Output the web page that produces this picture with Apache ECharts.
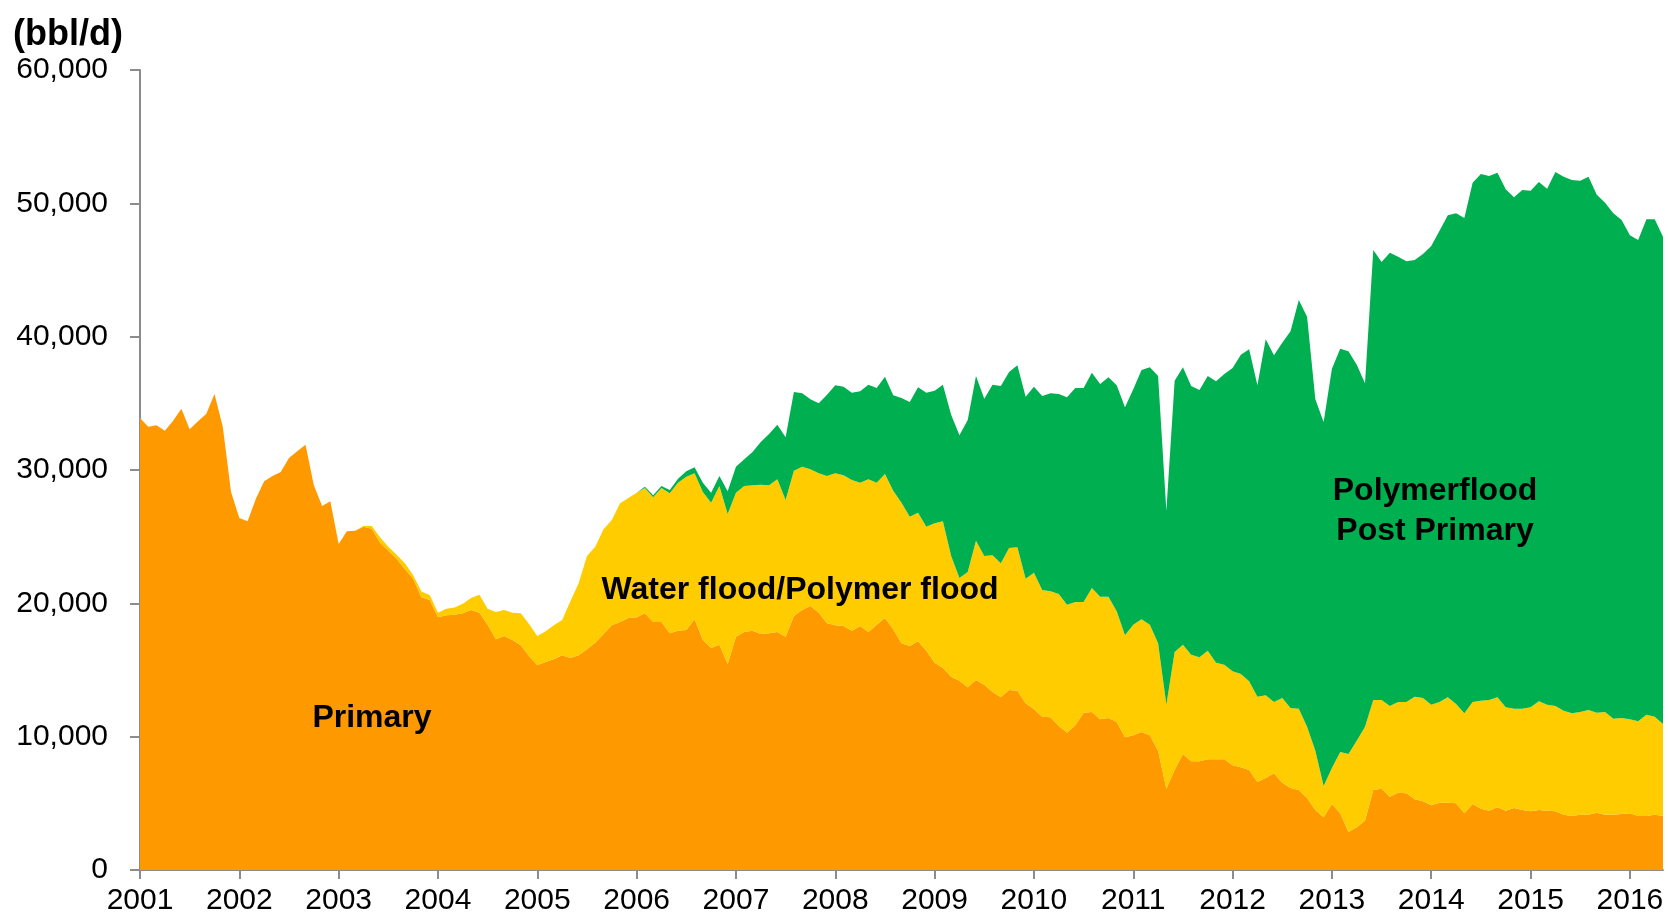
<!DOCTYPE html>
<html>
<head>
<meta charset="utf-8">
<script src="https://cdn.jsdelivr.net/npm/echarts@6/dist/echarts.min.js"></script>
<style>
  html, body { margin: 0; padding: 0; background: #fff; }
  #main { width: 1668px; height: 913px; }
</style>
</head>
<body>
<div id="main"></div>
<script>
// monthly, Jan 2001 .. May 2016
var firstYear = 2001;
var lastYear = 2016;
var lastMonth = 5;
var months = [];
for (var y = firstYear; y <= lastYear; y++) {
  for (var m = 1; m <= 12; m++) {
    if (y === lastYear && m > lastMonth) break;
    months.push(y + '-' + (m < 10 ? '0' + m : m));
  }
}

var primary = [
  33900, 33250, 33350, 32950, 33700, 34600, 33050, 33650, 34200, 35700,
  33250, 28350, 26400, 26150, 27850, 29150, 29550, 29850, 30900, 31400,
  31900, 28850, 27300, 27650, 24450, 25400, 25450, 25750, 25600, 24550,
  23950, 23350, 22550, 21850, 20450, 20250, 18950, 19100, 19150, 19250,
  19500, 19300, 18400, 17300, 17550, 17250, 16850, 16050, 15350, 15600,
  15800, 16100, 15900, 16100, 16550, 17050, 17700, 18350, 18600, 18900,
  18950, 19250, 18600, 18600, 17750, 17950, 18000, 18800, 17250, 16650,
  16900, 15450, 17500, 17850, 17950, 17700, 17750, 17850, 17500, 19050,
  19500, 19800, 19300, 18500, 18350, 18300, 17950, 18300, 17850, 18400,
  18900, 18050, 17000, 16800, 17150, 16450, 15550, 15150, 14500, 14200,
  13700, 14250, 13900, 13350, 12950, 13500, 13450, 12500, 12050, 11500,
  11450, 10800, 10300, 10850, 11800, 11850, 11300, 11400, 11100, 9950,
  10100, 10350, 10100, 8950, 6100, 7500, 8700, 8150, 8150, 8300,
  8300, 8300, 7850, 7700, 7500, 6600, 6900, 7250, 6550, 6150,
  6000, 5400, 4500, 3950, 4950, 4250, 2850, 3200, 3700, 6000,
  6100, 5500, 5800, 5750, 5300, 5150, 4850, 5050, 5050, 5000,
  4250, 4950, 4600, 4450, 4700, 4450, 4650, 4500, 4400, 4500,
  4450, 4400, 4150, 4050, 4150, 4150, 4300, 4150, 4150, 4200,
  4250, 4050, 4050, 4150, 4050
];

var waterflood = [
  0, 0, 0, 0, 0, 0, 0, 0, 0, 0,
  0, 0, 0, 0, 0, 0, 0, 0, 0, 0,
  0, 0, 0, 0, 0, 0, 0, 50, 200, 400,
  300, 300, 450, 250, 430, 370, 340, 490, 540, 720,
  900, 1350, 1200, 2050, 1950, 2050, 2400, 2400, 2200, 2300,
  2550, 2650, 4250, 5400, 7000, 7200, 7850, 7900, 8900, 9000,
  9350, 9400, 9350, 10050, 10500, 11100, 11500, 10950, 11100, 10900,
  11900, 11250, 10800, 10950, 10900, 11200, 11100, 11450, 10250, 10900,
  10750, 10250, 10450, 11050, 11400, 11300, 11300, 10750, 11450, 10650,
  10800, 10400, 10550, 9700, 9650, 9300, 10450, 11000, 9050, 7700,
  8650, 10450, 9650, 10250, 10050, 10650, 10750, 9350, 10250, 9500,
  9450, 9900, 9600, 9250, 8300, 9300, 9200, 9100, 8300, 7650,
  8300, 8450, 8300, 8050, 6300, 8850, 8200, 8000, 7800, 8150,
  7250, 7100, 7050, 7000, 6650, 6400, 6200, 5350, 6350, 6000,
  6100, 5350, 4450, 2350, 2700, 4600, 5850, 6500, 7050, 6750,
  6650, 6800, 6800, 6850, 7700, 7750, 7550, 7550, 7900, 7450,
  7500, 7650, 8100, 8300, 8250, 7750, 7450, 7600, 7800, 8150,
  7950, 7900, 7800, 7700, 7700, 7850, 7500, 7700, 7200, 7200,
  7050, 7100, 7600, 7350, 6900
];

var polymerPost = [
  0, 0, 0, 0, 0, 0, 0, 0, 0, 0,
  0, 0, 0, 0, 0, 0, 0, 0, 0, 0,
  0, 0, 0, 0, 0, 0, 0, 0, 0, 0,
  0, 0, 0, 0, 0, 0, 0, 0, 0, 0,
  0, 0, 0, 0, 0, 0, 0, 0, 0, 0,
  0, 0, 0, 0, 0, 0, 0, 0, 0, 0,
  0, 100, 150, 150, 250, 300, 400, 450, 700, 750,
  750, 1700, 1950, 2000, 2500, 3200, 3850, 4100, 4700, 5900,
  5500, 5250, 5250, 6100, 6600, 6650, 6550, 6850, 7100, 7100,
  7300, 7150, 7850, 8600, 9400, 10050, 9950, 10250, 10600, 10700,
  11400, 12350, 11800, 12800, 13300, 13200, 13650, 13650, 13950, 14550,
  14850, 15000, 15550, 16050, 16050, 16150, 15950, 16450, 16950, 17100,
  17650, 18700, 19300, 20050, 14550, 20350, 20800, 20150, 20050, 20600,
  21100, 21800, 22750, 23950, 24900, 23350, 26700, 26000, 26650, 28250,
  30650, 30750, 26350, 27300, 29950, 30250, 30200, 28200, 25750, 33750,
  32850, 34000, 33400, 33050, 32750, 33300, 34400, 35350, 36150, 36800,
  37150, 38950, 39500, 39300, 39350, 38850, 38350, 38900, 38750, 38950,
  38700, 40050, 40050, 40000, 39850, 40000, 38850, 38200, 37900, 37350,
  36300, 36100, 37150, 37300, 36550
];

var yTicks = { min: 0, max: 60000, step: 10000 };

var font = '"Liberation Sans", Arial, sans-serif';
var axisGray = '#8c8c8c';

function areaSeries(name, data, color) {
  return {
    name: name,
    type: 'line',
    stack: 'total',
    data: data,
    symbol: 'none',
    smooth: false,
    lineStyle: { width: 0 },
    areaStyle: { color: color, opacity: 1 },
    emphasis: { disabled: true },
    silent: true
  };
}

var chart = echarts.init(document.getElementById('main'), null, { renderer: 'canvas' });

var option = {
  animation: false,
  backgroundColor: '#ffffff',
  grid: {
    left: 140,
    right: 5,
    top: 70,
    bottom: 43,
    containLabel: false,
    outerBoundsMode: 'none'
  },
  xAxis: {
    type: 'category',
    data: months,
    boundaryGap: false,
    axisLine: { lineStyle: { color: axisGray, width: 2 } },
    axisTick: {
      length: 9,
      interval: function (idx) { return idx % 12 === 0; },
      lineStyle: { color: axisGray, width: 2 }
    },
    axisLabel: {
      interval: function (idx) { return idx % 12 === 0; },
      formatter: function (v) { return v.slice(0, 4); },
      color: '#000',
      fontSize: 30,
      fontFamily: font,
      margin: 16
    },
    splitLine: { show: false }
  },
  yAxis: {
    type: 'value',
    min: yTicks.min,
    max: yTicks.max,
    interval: yTicks.step,
    axisLine: { show: true, lineStyle: { color: axisGray, width: 2 } },
    axisTick: { show: true, length: 10, lineStyle: { color: axisGray, width: 2 } },
    axisLabel: {
      formatter: function (v) { return v.toLocaleString('en-US'); },
      color: '#000',
      fontSize: 30,
      fontFamily: font,
      margin: 32,
      padding: [4, 0, 0, 0]
    },
    splitLine: { show: false }
  },
  graphic: [
    {
      type: 'text', x: 13, y: 35,
      style: { text: '(bbl/d)', font: 'bold 36px ' + font, fill: '#000', verticalAlign: 'middle' }
    },
    {
      type: 'text', x: 372, y: 718, z: 100,
      style: { text: 'Primary', font: 'bold 32px ' + font, fill: '#000', align: 'center', verticalAlign: 'middle' }
    },
    {
      type: 'text', x: 800, y: 590, z: 100,
      style: { text: 'Water flood/Polymer flood', font: 'bold 32px ' + font, fill: '#000', align: 'center', verticalAlign: 'middle' }
    },
    {
      type: 'text', x: 1435, y: 511, z: 100,
      style: { text: 'Polymerflood\nPost Primary', font: 'bold 32px ' + font, lineHeight: 40, fill: '#000', align: 'center', verticalAlign: 'middle' }
    }
  ],
  series: [
    areaSeries('Primary', primary, '#ff9900'),
    areaSeries('Water flood/Polymer flood', waterflood, '#ffcc00'),
    areaSeries('Polymerflood Post Primary', polymerPost, '#00b050')
  ]
};

chart.setOption(option);
</script>
</body>
</html>
